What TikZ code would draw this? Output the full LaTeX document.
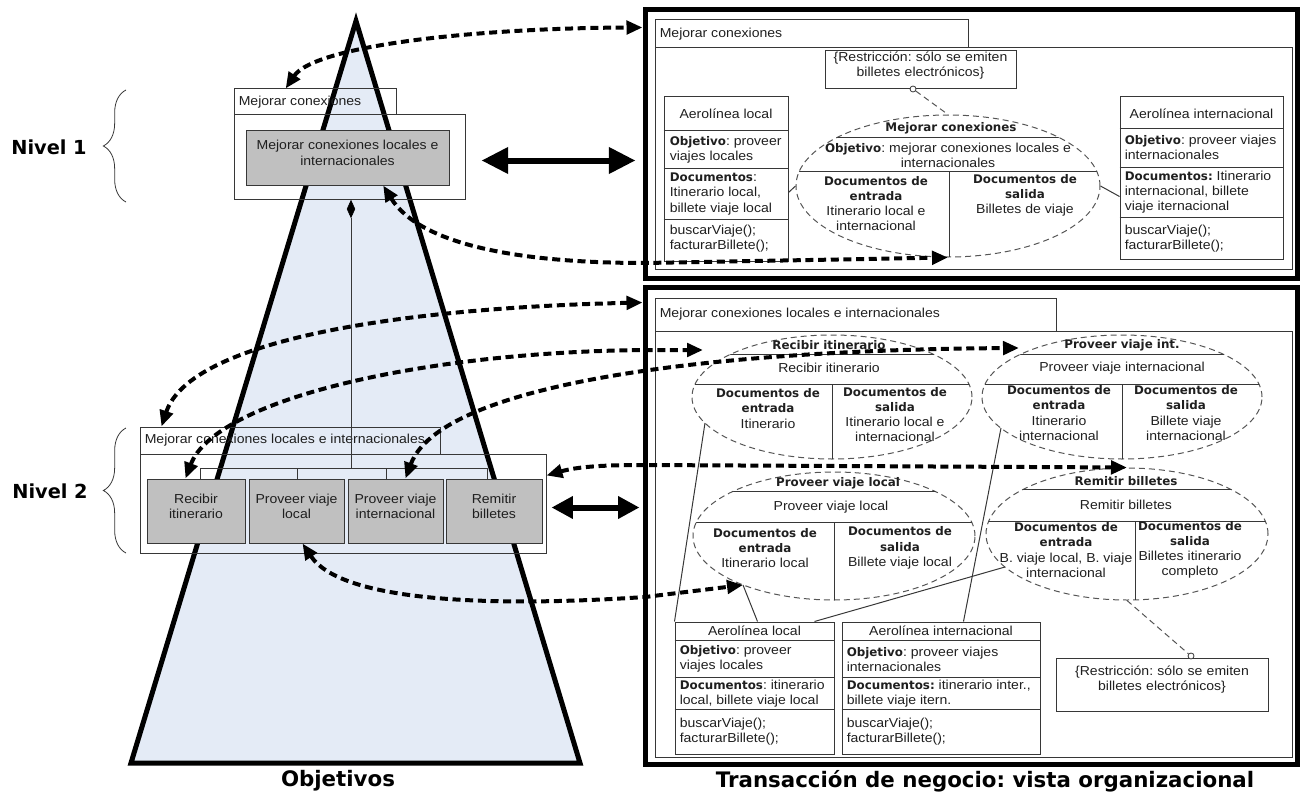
\documentclass[tikz,border=0pt]{standalone}
\usepackage{fontspec}
\setmainfont{Liberation Sans}[FakeStretch=1.08]
\newfontfamily\dv{DejaVu Sans}
\usetikzlibrary{arrows.meta,shapes.geometric,decorations.pathreplacing,calc,fit}
\definecolor{tri}{RGB}{228,235,246}
\definecolor{gbox}{RGB}{192,192,192}
\definecolor{ln}{RGB}{55,55,55}
\newcommand\bdx[1]{{\dv\bfseries\fontsize{8.9pt}{11.4pt}\selectfont #1}}
\frenchspacing
\begin{document}
\frenchspacing
\begin{tikzpicture}[x=0.75pt,y=-0.75pt,
  every node/.style={inner sep=0pt, font=\fontsize{9.75pt}{11.4pt}\selectfont\frenchspacing, text=black!88},
  thinbox/.style={draw=ln, line width=0.75pt, inner sep=0pt},
  graybox/.style={draw=ln, line width=0.75pt, fill=gbox, inner sep=0pt, align=center},
  outerbox/.style={draw=black, line width=3.75pt, inner sep=0pt},
  dell/.style={ellipse, draw=ln!85, dash pattern=on 4.5pt off 3pt, line width=0.75pt, inner sep=0pt},
  thinln/.style={draw=ln, line width=0.75pt},
  dashln/.style={draw=ln!85, dash pattern=on 4.5pt off 3pt, line width=0.75pt},
  dotarr/.style={line width=3pt, dash pattern=on 6pt off 3.5pt,
     {Triangle[length=12pt,width=10pt]}-{Triangle[length=12pt,width=10pt]}},
  bigarr/.style={line width=4.5pt, {Triangle[length=20pt,width=19pt]}-{Triangle[length=20pt,width=19pt]}},
  midarr/.style={line width=4.5pt, {Triangle[length=16pt,width=16pt]}-{Triangle[length=16pt,width=16pt]}},
  bigtitle/.style={font=\dv\bfseries\fontsize{16pt}{19pt}\selectfont, text=black},
  niveltitle/.style={font=\dv\bfseries\fontsize{14.5pt}{17pt}\selectfont, text=black},
  colt/.style={align=center},
  clt/.style={anchor=west, align=left}
]
\useasboundingbox (0,0) rectangle (1314,799);

% ---------------- left: objectives pyramid ----------------
\draw[line width=3.75pt, fill=tri, line join=miter] (356,21) -- (580,763) -- (131,763) -- cycle;

% level 1
\node[thinbox, fit={(234,89) (396,115)}] (l1lab) {};
\node[anchor=west] at ($(l1lab.west)+(5,0)$) {Mejorar conexiones};
\node[thinbox, fit={(234,115) (465,199)}] (l1con) {};
\node[graybox, fit={(246,130) (449,185)}] (g0) {Mejorar conexiones locales e\\internacionales};

% level 2
\node[thinbox, fit={(140,427) (440,454)}] (l2lab) {};
\node[anchor=west] at ($(l2lab.west)+(5,0)$) {Mejorar conexiones locales e internacionales};
\node[thinbox, fit={(140,454) (546,553)}] (l2con) {};
\node[graybox, fit={(147,479) (245,543)}] (g1) {Recibir\\itinerario};
\node[graybox, fit={(249,479) (344,543)}] (g2) {Proveer viaje\\local};
\node[graybox, fit={(348,479) (443,543)}] (g3) {Proveer viaje\\internacional};
\node[graybox, fit={(446,479) (542,543)}] (g4) {Remitir\\billetes};

% composition tree
\node[diamond, fill=black, draw=black, line width=0.4pt, minimum width=6pt, minimum height=13pt, aspect=0.45, inner sep=0pt] (dia) at (351,209) {};
\coordinate (tb) at (351,469);
\draw[thinln] (dia.south) -- (tb);
\draw[thinln] ($(g1.north west)+(54,0)$) |- ($(g4.north west)+(42,-10)$) -- ($(g4.north west)+(42,0)$);
\draw[thinln] ($(g2.north west)+(49,0)$) -- ++(0,-10);
\draw[thinln] ($(g3.north west)+(39,0)$) -- ++(0,-10);

% level labels and braces
\node[niveltitle] (n1) at (49,147) {Nivel 1};
\node[niveltitle] (n2) at (50,491) {Nivel 2};
\draw[draw=ln, line width=0.6pt, decorate, decoration={brace, amplitude=17pt}] (126,202) -- (126,90);
\draw[draw=ln, line width=0.6pt, decorate, decoration={brace, amplitude=17pt}] (126,553) -- (126,428);

\node[bigtitle] (tobj) at (338,781) {Objetivos};
\node[bigtitle] (ttra) at (985,781) {Transacción de negocio: vista organizacional};

% ---------------- right top ----------------
\node[outerbox, fit={(645,10) (1297,278)}] (rtop) {};
\node[thinbox, fit={(655,20) (968,48)}] (rtlab) {};
\node[anchor=west] at ($(rtlab.west)+(5,0)$) {Mejorar conexiones};
\node[thinbox, fit={(655,48) (1292,269)}] (rtcon) {};

\node[thinbox, fit={(825,51) (1016,89)}, align=center] (rs1) {\{Restricción: sólo se emiten\\billetes electrónicos\}};
\node[dell, minimum width=228pt, minimum height=106.5pt] (e0) at (948,186) {};
\begin{scope}
  \clip (e0.center) ellipse [x radius=152, y radius=71];
  \draw[thinln] ($(e0.center)+(-160,-49)$) -- ($(e0.center)+(160,-49)$);
  \draw[thinln] ($(e0.center)+(-160,-15)$) -- ($(e0.center)+(160,-15)$);
  \draw[thinln] ($(e0.center)+(1,-15)$) -- ($(e0.center)+(1,80)$);
\end{scope}
\node at ($(e0.center)+(3,-58)$) {\bdx{Mejorar conexiones}};
\node[colt] at ($(e0.center)+(0,-30.5)$) {\bdx{Objetivo}: mejorar conexiones locales e\\internacionales};
\node[colt] at ($(e0.center)+(-72,17.5)$) {\bdx{Documentos de}\\\bdx{entrada}\\Itinerario local e\\internacional};
\node[colt] at ($(e0.center)+(77,9.5)$) {\bdx{Documentos de}\\\bdx{salida}\\Billetes de viaje};
\node[circle, draw=ln, fill=white, line width=0.6pt, minimum size=4.5pt, inner sep=0pt] (c1) at (913,89) {};
\draw[dashln] (c1) -- (e0.north);

% class boxes top
\node[thinbox, fit={(664,97) (788,261)}] (cl1) {};
\draw[thinln] ($(cl1.north west)+(0,34)$) -- ($(cl1.north east)+(0,34)$);
\draw[thinln] ($(cl1.north west)+(0,72)$) -- ($(cl1.north east)+(0,72)$);
\draw[thinln] ($(cl1.north west)+(0,123)$) -- ($(cl1.north east)+(0,123)$);
\node at ($(cl1.north)+(0,17)$) {Aerolínea local};
\node[clt] at ($(cl1.north west)+(6,53)$) {\bdx{Objetivo}: proveer\\viajes locales};
\node[clt] at ($(cl1.north west)+(6,97.5)$) {\bdx{Documentos}:\\Itinerario local,\\billete viaje local};
\node[clt] at ($(cl1.north west)+(6,142.5)$) {buscarViaje();\\facturarBillete();};

\node[thinbox, fit={(1120,97) (1283,259)}] (cl2) {};
\draw[thinln] ($(cl2.north west)+(0,32)$) -- ($(cl2.north east)+(0,32)$);
\draw[thinln] ($(cl2.north west)+(0,71)$) -- ($(cl2.north east)+(0,71)$);
\draw[thinln] ($(cl2.north west)+(0,121)$) -- ($(cl2.north east)+(0,121)$);
\node at ($(cl2.north)+(0,17)$) {Aerolínea internacional};
\node[clt] at ($(cl2.north west)+(5,51)$) {\bdx{Objetivo}: proveer viajes\\internacionales};
\node[clt] at ($(cl2.north west)+(5,95.5)$) {\bdx{Documentos:} Itinerario\\internacional, billete\\viaje iternacional};
\node[clt] at ($(cl2.north west)+(5,142)$) {buscarViaje();\\facturarBillete();};

\draw[thinln] ($(cl1.north east)+(0,96)$) -- (e0.west);
\draw[thinln] ($(cl2.north west)+(0,100)$) -- (e0.east);

% ---------------- right bottom ----------------
\node[outerbox, fit={(645,287) (1297,764)}] (rbot) {};
\node[thinbox, fit={(655,298) (1056,331)}] (rblab) {};
\node[anchor=west] at ($(rblab.west)+(5,0)$) {Mejorar conexiones locales e internacionales};
\node[thinbox, fit={(655,331) (1292,757)}] (rbcon) {};

% ellipse 1: Recibir itinerario
\node[dell, minimum width=210pt, minimum height=93pt] (e1) at (832,397) {};
\begin{scope}
  \clip (e1.center) ellipse [x radius=140, y radius=62];
  \draw[thinln] ($(e1.center)+(-150,-43)$) -- ($(e1.center)+(150,-43)$);
  \draw[thinln] ($(e1.center)+(-150,-13)$) -- ($(e1.center)+(150,-13)$);
  \draw[thinln] ($(e1.center)+(0,-13)$) -- ($(e1.center)+(0,70)$);
\end{scope}
\node at ($(e1.center)+(-3,-52)$) {\bdx{Recibir itinerario}};
\node at ($(e1.center)+(-3,-29)$) {Recibir itinerario};
\node[colt] at ($(e1.center)+(-64,11.5)$) {\bdx{Documentos de}\\\bdx{entrada}\\Itinerario};
\node[colt] at ($(e1.center)+(63,17.5)$) {\bdx{Documentos de}\\\bdx{salida}\\Itinerario local e\\internacional};

% ellipse 2: Proveer viaje int.
\node[dell, minimum width=210pt, minimum height=93pt] (e2) at (1122,397) {};
\begin{scope}
  \clip (e2.center) ellipse [x radius=140, y radius=62];
  \draw[thinln] ($(e2.center)+(-150,-43)$) -- ($(e2.center)+(150,-43)$);
  \draw[thinln] ($(e2.center)+(-150,-13)$) -- ($(e2.center)+(150,-13)$);
  \draw[thinln] ($(e2.center)+(0,-13)$) -- ($(e2.center)+(0,70)$);
\end{scope}
\node at ($(e2.center)+(0,-52)$) {\bdx{Proveer viaje int.}};
\node at ($(e2.center)+(0,-29)$) {Proveer viaje internacional};
\node[colt] at ($(e2.center)+(-63,16)$) {\bdx{Documentos de}\\\bdx{entrada}\\Itinerario\\internacional};
\node[colt] at ($(e2.center)+(64,16)$) {\bdx{Documentos de}\\\bdx{salida}\\Billete viaje\\internacional};

% ellipse 3: Proveer viaje local
\node[dell, minimum width=211.5pt, minimum height=96pt] (e3) at (834,536) {};
\begin{scope}
  \clip (e3.center) ellipse [x radius=141, y radius=64];
  \draw[thinln] ($(e3.center)+(-150,-45)$) -- ($(e3.center)+(150,-45)$);
  \draw[thinln] ($(e3.center)+(-150,-14)$) -- ($(e3.center)+(150,-14)$);
  \draw[thinln] ($(e3.center)+(0,-14)$) -- ($(e3.center)+(0,70)$);
\end{scope}
\node at ($(e3.center)+(4,-53)$) {\bdx{Proveer viaje local}};
\node at ($(e3.center)+(-3,-29)$) {Proveer viaje local};
\node[colt] at ($(e3.center)+(-69,12)$) {\bdx{Documentos de}\\\bdx{entrada}\\Itinerario local};
\node[colt] at ($(e3.center)+(66,12)$) {\bdx{Documentos de}\\\bdx{salida}\\Billete viaje local};

% ellipse 4: Remitir billetes
\node[dell, minimum width=211.5pt, minimum height=99pt] (e4) at (1127,534) {};
\begin{scope}
  \clip (e4.center) ellipse [x radius=141, y radius=66];
  \draw[thinln] ($(e4.center)+(-150,-45)$) -- ($(e4.center)+(150,-45)$);
  \draw[thinln] ($(e4.center)+(-150,-13)$) -- ($(e4.center)+(150,-13)$);
  \draw[thinln] ($(e4.center)+(8,-13)$) -- ($(e4.center)+(8,70)$);
\end{scope}
\node at ($(e4.center)+(-1,-53)$) {\bdx{Remitir billetes}};
\node at ($(e4.center)+(-1,-29)$) {Remitir billetes};
\node[colt] at ($(e4.center)+(-61,16)$) {\bdx{Documentos de}\\\bdx{entrada}\\B. viaje local, B. viaje\\internacional};
\node[colt] at ($(e4.center)+(63,16)$) {\bdx{Documentos de}\\\bdx{salida}\\Billetes itinerario\\completo};

% restriction bottom
\node[thinbox, fit={(1056,658) (1268,711)}, align=center] (rs2) {\{Restricción: sólo se emiten\\billetes electrónicos\}};
\node[circle, draw=ln, fill=white, line width=0.6pt, minimum size=4.5pt, inner sep=0pt] (c2) at (1191,656) {};
\draw[dashln] (e4.south) -- (c2);

% class boxes bottom
\node[thinbox, fit={(675,622) (834,754)}] (cl3) {};
\draw[thinln] ($(cl3.north west)+(0,19)$) -- ($(cl3.north east)+(0,19)$);
\draw[thinln] ($(cl3.north west)+(0,56)$) -- ($(cl3.north east)+(0,56)$);
\draw[thinln] ($(cl3.north west)+(0,88)$) -- ($(cl3.north east)+(0,88)$);
\node at ($(cl3.north)+(0,9.5)$) {Aerolínea local};
\node[clt] at ($(cl3.north west)+(5,37.5)$) {\bdx{Objetivo}: proveer\\viajes locales};
\node[clt] at ($(cl3.north west)+(5,72)$) {\bdx{Documentos}: itinerario\\local, billete viaje local};
\node[clt] at ($(cl3.north west)+(5,110)$) {buscarViaje();\\facturarBillete();};

\node[thinbox, fit={(842,622) (1040,754)}] (cl4) {};
\draw[thinln] ($(cl4.north west)+(0,19)$) -- ($(cl4.north east)+(0,19)$);
\draw[thinln] ($(cl4.north west)+(0,56)$) -- ($(cl4.north east)+(0,56)$);
\draw[thinln] ($(cl4.north west)+(0,88)$) -- ($(cl4.north east)+(0,88)$);
\node at ($(cl4.north)+(0,9.5)$) {Aerolínea internacional};
\node[clt] at ($(cl4.north west)+(5,37.5)$) {\bdx{Objetivo}: proveer viajes\\internacionales};
\node[clt] at ($(cl4.north west)+(5,72)$) {\bdx{Documentos:} itinerario inter.,\\billete viaje itern.};
\node[clt] at ($(cl4.north west)+(5,110)$) {buscarViaje();\\facturarBillete();};

% association lines bottom
\draw[thinln] (cl3.north west) -- ($(e1.center)+(-127,26)$);
\draw[thinln] ($(cl3.north west)+(83,0)$) -- ($(e3.center)+(-91,49)$);
\draw[thinln] ($(cl3.north west)+(140,0)$) -- ($(e4.center)+(-122,33)$);
\draw[thinln] ($(cl4.north west)+(122,0)$) -- ($(e2.center)+(-121,31)$);

% ---------------- big double arrows ----------------
\draw[bigarr] ($(g0.east)+(32,3)$) -- ($(rtop.west |- g0.east)+(-7,3)$);
\draw[midarr] ($(l2con.east)+(5,4)$) -- ($(rbot.west |- l2con.east)+(-3,4)$);

% ---------------- dotted arrows ----------------
\draw[dotarr] ($(l1lab.north west)!0.32!(l1lab.north east)$) .. controls (315,45) and (480,28) .. ($(rtop.north west)+(0,20)$);
\draw[dotarr] ($(g0.south west)!0.675!(g0.south east)$) .. controls (420,245) and (520,263) .. (645,263) -- (e0.south);
\draw[dotarr] ($(l2lab.north west)+(22,0)$) .. controls (190,340) and (400,308) .. ($(rbot.north west)+(0,18)$);
\draw[dotarr] ($(g1.north west)+(39,0)$) .. controls (215,400) and (420,352) .. (645,350) -- ($(e1.center)+(-129,-47)$);
\draw[dotarr] ($(g3.north west)+(58,0)$) .. controls (440,385) and (700,350) .. ($(e2.center)+(-103,-49)$);
\draw[dotarr] ($(l2con.north east)+(0,22)$) .. controls (580,466) and (610,465) .. (645,465) -- (e4.north);
\draw[dotarr] ($(g2.south west)+(54,0)$) .. controls (340,600) and (480,608) .. (645,597) -- ($(e3.center)+(-91,49)$);
\end{tikzpicture}
\end{document}
